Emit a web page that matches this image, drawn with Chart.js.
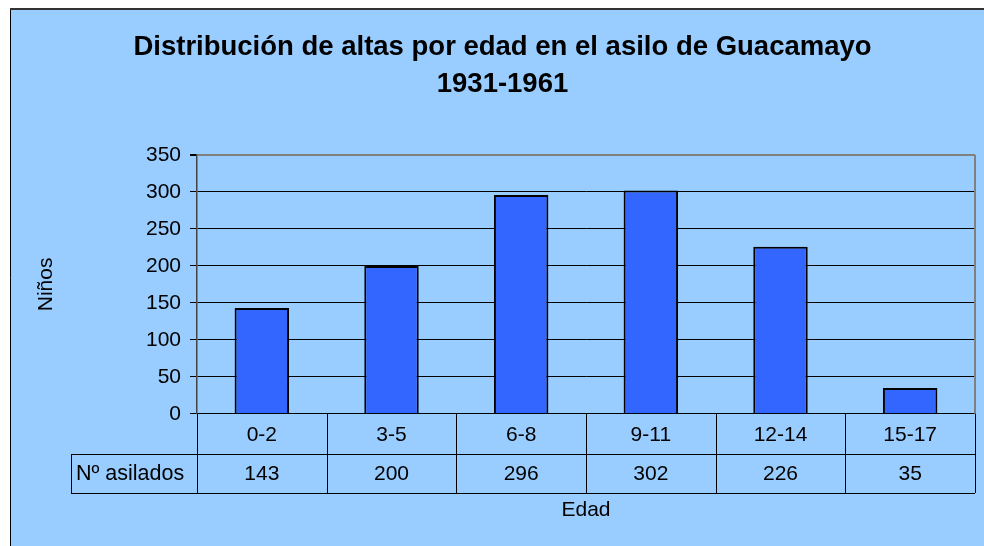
<!DOCTYPE html>
<html>
<head>
<meta charset="utf-8">
<script src="https://cdn.jsdelivr.net/npm/chart.js@4.4.1/dist/chart.umd.min.js"></script>
<style>
  html, body { margin: 0; padding: 0; background: #ffffff; }
  #wrap { width: 984px; height: 546px; position: relative; }
  canvas { display: block; }
</style>
</head>
<body>
<div id="wrap"><canvas id="c" width="984" height="546"></canvas></div>
<script>
const categories = ['0-2', '3-5', '6-8', '9-11', '12-14', '15-17'];
const asilados = [143, 200, 296, 302, 226, 35];
const seriesLabel = 'Nº asilados';
const titleLines = ['Distribución de altas por edad en el asilo de Guacamayo', '1931-1961'];
const yTitle = 'Niños';
const xTitle = 'Edad';

const BG = '#99CCFF';
const FONT = 'Arial, "Liberation Sans", sans-serif';

const frame = {
  id: 'frame',
  beforeDraw(chart) {
    const ctx = chart.ctx;
    ctx.save();
    ctx.fillStyle = '#ffffff';
    ctx.fillRect(0, 0, chart.width, chart.height);
    ctx.fillStyle = BG;
    ctx.fillRect(10, 8, chart.width - 10, chart.height - 8);
    ctx.strokeStyle = '#000000';
    ctx.lineWidth = 1;
    ctx.beginPath();
    ctx.moveTo(10.5, chart.height);
    ctx.lineTo(10.5, 8.5);
    ctx.stroke();
    ctx.lineWidth = 2;
    ctx.strokeStyle = '#333333';
    ctx.beginPath();
    ctx.moveTo(10, 9);
    ctx.lineTo(chart.width, 9);
    ctx.stroke();
    ctx.restore();
  }
};

const table = {
  id: 'table',
  afterDraw(chart) {
    const ctx = chart.ctx;
    const x = chart.scales.x;
    const a = chart.chartArea;
    const n = categories.length;
    const step = (a.right - a.left) / n;
    const row1 = Math.round(a.bottom), row2 = row1 + 40, row3 = row1 + 79;
    const labelLeft = 71;
    ctx.save();
    // right border of plot
    ctx.strokeStyle = '#808080';
    ctx.lineWidth = 2;
    ctx.beginPath();
    ctx.moveTo(a.right, a.top);
    ctx.lineTo(a.right, a.bottom);
    ctx.stroke();
    ctx.strokeStyle = '#000000';
    ctx.lineWidth = 1;
    ctx.beginPath();
    for (let i = 0; i <= n; i++) {
      const px = Math.round(x.getPixelForValue(i) - step / 2) + 0.5;
      ctx.moveTo(px, row1);
      ctx.lineTo(px, row3);
    }
    ctx.moveTo(labelLeft + 0.5, row2);
    ctx.lineTo(labelLeft + 0.5, row3);
    ctx.moveTo(labelLeft, row2 + 0.5);
    ctx.lineTo(a.right, row2 + 0.5);
    ctx.moveTo(labelLeft, row3 + 0.5);
    ctx.lineTo(a.right, row3 + 0.5);
    ctx.stroke();
    ctx.fillStyle = '#000000';
    ctx.font = '21px ' + FONT;
    ctx.textAlign = 'center';
    ctx.textBaseline = 'middle';
    for (let i = 0; i < n; i++) {
      const cx = x.getPixelForValue(i);
      ctx.fillText(categories[i], cx, (row1 + row2) / 2 + 1);
      ctx.fillText(String(asilados[i]), cx, (row2 + row3) / 2 + 1);
    }
    ctx.textAlign = 'left';
    ctx.font = '21.5px ' + FONT;
    ctx.fillText(seriesLabel, labelLeft + 5, (row2 + row3) / 2 + 1);
    ctx.restore();
  }
};

new Chart(document.getElementById('c'), {
  type: 'bar',
  data: {
    labels: categories,
    datasets: [{
      label: seriesLabel,
      data: asilados,
      backgroundColor: '#3366FF',
      borderColor: '#000000',
      borderWidth: 2,
      barPercentage: 0.42,
      categoryPercentage: 1.0
    }]
  },
  options: {
    responsive: false,
    animation: false,
    devicePixelRatio: 1,
    layout: { padding: { left: 30, right: 9, top: 0, bottom: 23 } },
    plugins: {
      legend: { display: false },
      tooltip: { enabled: false },
      title: {
        display: true,
        text: titleLines,
        color: '#000000',
        font: { family: FONT, size: 27.5, weight: 'bold', lineHeight: 1.345 },
        padding: { top: 28.5, bottom: 52.5 }
      }
    },
    scales: {
      x: {
        grid: { display: false, drawTicks: false },
        border: { display: true, color: '#000000', width: 1 },
        ticks: { display: false },
        title: {
          display: true, text: xTitle, color: '#000000',
          font: { family: FONT, size: 21 },
          padding: { top: 84, bottom: 0 }
        }
      },
      y: {
        min: 0, max: 350,
        ticks: {
          stepSize: 50, color: '#000000', padding: 9,
          font: { family: FONT, size: 21 }
        },
        grid: {
          color: (c) => c.tick && c.tick.value === 350 ? '#808080' : '#000000',
          lineWidth: (c) => c.tick && c.tick.value === 350 ? 2 : 1,
          tickLength: 7,
          tickColor: '#000000'
        },
        border: { display: true, color: '#444444', width: 1.5 },
        title: {
          display: true, text: yTitle, color: '#000000',
          font: { family: FONT, size: 21 },
          padding: { top: 4, bottom: 0 }
        },
        afterFit(scale) { scale.width = 167; }
      }
    }
  },
  plugins: [frame, table]
});
</script>
</body>
</html>
